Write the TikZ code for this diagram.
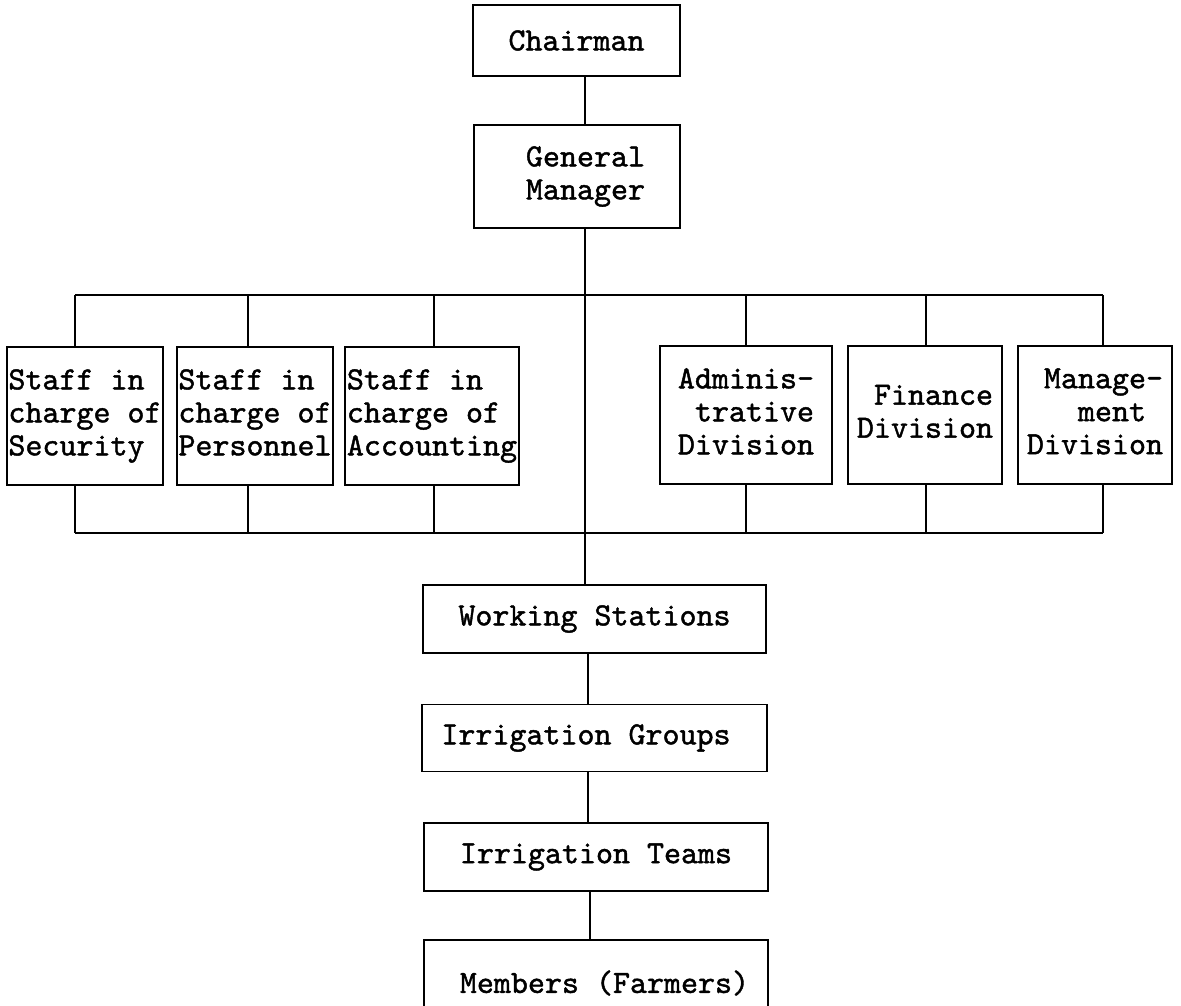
\documentclass[tikz,border=0pt]{standalone}
\usepackage{fontspec}
\newfontfamily\typew[FakeBold=1.3]{lmmono10-regular.otf}
\begin{document}
\begin{tikzpicture}[x=1pt,y=-1pt,
  orgbox/.style={draw,line width=1.7pt,inner sep=1pt,align=left,
    font=\typew\fontsize{32.4pt}{33pt}\selectfont},
  link/.style={line width=1.4pt}]
\useasboundingbox (0,0) rectangle (1181,1006);
\clip (0,0) rectangle (1181,1006);
% top
\node[orgbox,minimum width=207pt,minimum height=71pt] (chair) at (576.5,40.5) {Chairman};
\node[orgbox,minimum width=206pt,minimum height=103pt] (gm) at (577,176.5) {\hphantom{i}General\\\hphantom{i}Manager};
% staff boxes
\node[orgbox,minimum width=156pt,minimum height=138pt] (sec) at (85,416) {Staff in\\charge of\\Security};
\node[orgbox,minimum width=156pt,minimum height=138pt] (per) at (255,416) {Staff in\\charge of\\Personnel\vphantom{y}};
\node[orgbox,minimum width=174pt,minimum height=138pt] (acc) at (432,416) {Staff in\\charge of\\Accounting};
% divisions
\node[orgbox,minimum width=172pt,minimum height=138pt] (adm) at (746,415) {Adminis-\\\hphantom{x}trative\\Division\vphantom{y}};
\node[orgbox,minimum width=154pt,minimum height=138pt] (fin) at (925,415) {\hphantom{x}Finance\\Division\vphantom{y}};
\node[orgbox,minimum width=154pt,minimum height=138pt] (man) at (1095,415) {\hphantom{x}Manage-\\\hphantom{xxx}ment\\Division\vphantom{y}};
% lower chain
\node[orgbox,minimum width=343pt,minimum height=68pt] (ws) at (594.5,619) {Working Stations};
\node[orgbox,minimum width=345pt,minimum height=67pt] (ig) at (594.5,738) {Irrigation Groups\hphantom{i}};
\node[orgbox,minimum width=344pt,minimum height=68pt] (it) at (596,857) {Irrigation Teams};
\node[orgbox,minimum width=344pt,minimum height=86pt] (mem) at (596,983) {\hphantom{i}Members (Farmers)};
% spine
\coordinate (sx) at (585,0);
\coordinate (tb) at (0,295);
\coordinate (bb) at (0,533);
\draw[link] (chair.south -| sx) -- (gm.north -| sx);
\draw[link] (gm.south -| sx) -- (ws.north -| sx);
\draw[link] (ws.south -| 588,0) -- (ig.north -| 588,0);
\draw[link] (ig.south -| 588,0) -- (it.north -| 588,0);
\draw[link] (it.south -| 590,0) -- (mem.north -| 590,0);
% buses
\coordinate (dsec) at (75,0);
\coordinate (dper) at (248,0);
\coordinate (dacc) at (434,0);
\coordinate (dadm) at (746,0);
\coordinate (dfin) at (926,0);
\coordinate (dman) at (1103,0);
\draw[link] (dsec |- tb) -- (dman |- tb);
\draw[link] (dsec |- bb) -- (dman |- bb);
\foreach \b/\d in {sec/dsec,per/dper,acc/dacc,adm/dadm,fin/dfin,man/dman}{
  \draw[link] (\b.north -| \d) -- (\d |- tb);
  \draw[link] (\b.south -| \d) -- (\d |- bb);
}
\end{tikzpicture}
\end{document}
